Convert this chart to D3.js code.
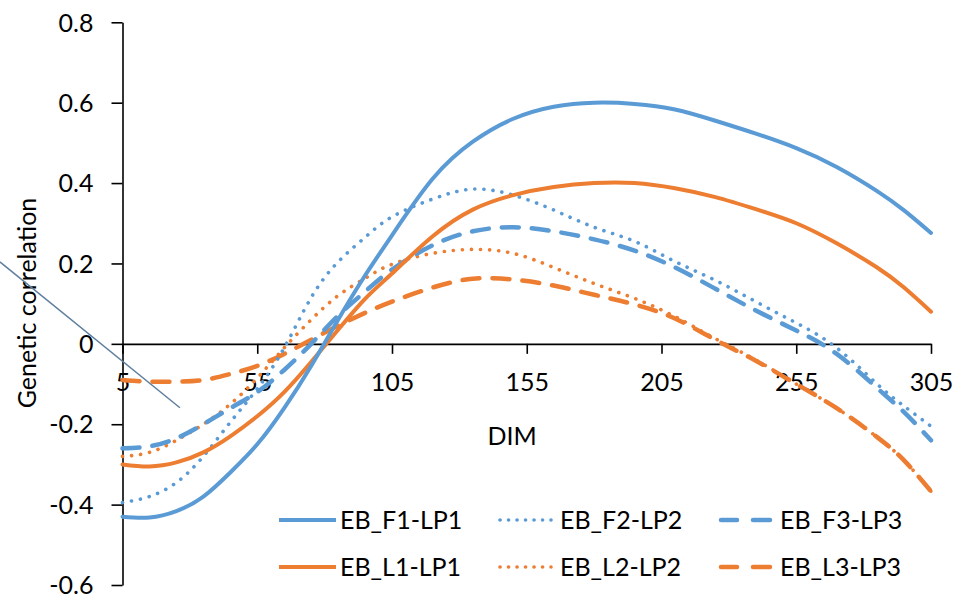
<!DOCTYPE html>
<html>
<head>
<meta charset="utf-8">
<script src="https://cdn.jsdelivr.net/npm/d3@7"></script>
<style>
  html, body { margin: 0; padding: 0; background: #fff; }
  svg { display: block; }
  text { font-family: Lato, "Open Sans", sans-serif; fill: #000; }
</style>
</head>
<body>
<svg id="chart" width="957" height="596"></svg>
<script>
// ---- data ----
const dim = [5, 15, 25, 35, 45, 55, 65, 75, 85, 95, 105, 120, 135, 150, 165, 180, 195, 210, 225, 240, 255, 270, 285, 295, 305];
const ebF1LP1 = [-0.43, -0.432, -0.416, -0.38, -0.32, -0.25, -0.16, -0.055, 0.06, 0.17, 0.27, 0.41, 0.503, 0.56, 0.59, 0.60, 0.597, 0.583, 0.555, 0.523, 0.487, 0.44, 0.38, 0.332, 0.276];
const ebF2LP2 = [-0.395, -0.38, -0.345, -0.28, -0.195, -0.112, -0.01, 0.115, 0.204, 0.265, 0.316, 0.36, 0.385, 0.37, 0.333, 0.29, 0.255, 0.205, 0.158, 0.105, 0.052, -0.01, -0.1, -0.155, -0.205];
const ebF3LP3 = [-0.26, -0.255, -0.235, -0.2, -0.16, -0.12, -0.065, 0.0, 0.07, 0.13, 0.185, 0.245, 0.28, 0.29, 0.28, 0.26, 0.232, 0.19, 0.137, 0.083, 0.033, -0.025, -0.11, -0.17, -0.24];
const ebL1LP1 = [-0.30, -0.305, -0.295, -0.27, -0.23, -0.18, -0.12, -0.045, 0.035, 0.112, 0.175, 0.267, 0.334, 0.37, 0.39, 0.40, 0.40, 0.387, 0.365, 0.335, 0.30, 0.25, 0.19, 0.14, 0.08];
const ebL2LP2 = [-0.28, -0.27, -0.24, -0.2, -0.15, -0.085, -0.01, 0.06, 0.12, 0.163, 0.198, 0.225, 0.235, 0.225, 0.19, 0.15, 0.113, 0.068, 0.013, -0.04, -0.1, -0.16, -0.232, -0.29, -0.367];
const ebL3LP3 = [-0.09, -0.094, -0.094, -0.09, -0.075, -0.055, -0.025, 0.01, 0.045, 0.077, 0.105, 0.14, 0.162, 0.16, 0.145, 0.122, 0.098, 0.063, 0.01, -0.042, -0.1, -0.16, -0.232, -0.29, -0.367];

const seriesNames = ["EB_F1-LP1", "EB_F2-LP2", "EB_F3-LP3", "EB_L1-LP1", "EB_L2-LP2", "EB_L3-LP3"];
const seriesValues = [ebF1LP1, ebF2LP2, ebF3LP3, ebL1LP1, ebL2LP2, ebL3LP3];

const xTicks = [5, 55, 105, 155, 205, 255, 305];
const yTicks = [-0.6, -0.4, -0.2, 0, 0.2, 0.4, 0.6, 0.8];
const yTickLabels = ["-0.6", "-0.4", "-0.2", "0", "0.2", "0.4", "0.6", "0.8"];
const xTitle = "DIM";
const yTitle = "Genetic correlation";
// stray annotation stroke present in the source image (data coordinates)
const annotX = [-40.5, 26.3];
const annotY = [0.204, -0.159];

// ---- styles ----
const BLUE = "#5B9BD5", ORANGE = "#ED7D31";
const styles = [
  { color: BLUE, width: 4, dash: null },
  { color: BLUE, width: 3.6, dash: "0.1,9" },
  { color: BLUE, width: 4.5, dash: "17,13" },
  { color: ORANGE, width: 4, dash: null },
  { color: ORANGE, width: 3.6, dash: "0.1,9" },
  { color: ORANGE, width: 4.5, dash: "17,13" }
];
const FS = "25px";

const svg = d3.select("#chart");
const x = d3.scaleLinear().domain([5, 305]).range([122.5, 931]);
const y = d3.scaleLinear().domain([-0.6, 0.8]).range([585, 22.3]);

// y axis
const yAxis = svg.append("g").attr("transform", `translate(${x(5)},0)`)
  .call(d3.axisLeft(y).tickValues(yTicks).tickSize(11).tickSizeOuter(0)
    .tickFormat((d, i) => yTickLabels[i]));
yAxis.select(".domain").attr("stroke", "#000").attr("stroke-width", 1.6);
yAxis.selectAll(".tick line").attr("stroke", "#000").attr("stroke-width", 1.6);
yAxis.selectAll(".tick text").attr("x", -29).attr("dy", "0.35em")
  .style("font-size", FS).attr("text-anchor", "end");

// x axis at y=0
const xAxis = svg.append("g").attr("transform", `translate(0,${y(0)})`)
  .call(d3.axisBottom(x).tickValues(xTicks).tickSize(10).tickSizeOuter(0)
    .tickFormat(d3.format("d")));
xAxis.select(".domain").attr("stroke", "#000").attr("stroke-width", 1.6);
xAxis.selectAll(".tick line").attr("stroke", "#000").attr("stroke-width", 1.6);
xAxis.selectAll(".tick text").attr("y", 38).attr("dy", "0.35em")
  .style("font-size", FS);

// titles
svg.append("text").attr("x", 512).attr("y", 436).attr("dy", "0.35em")
  .attr("text-anchor", "middle").style("font-size", FS).text(xTitle);
svg.append("text").attr("transform", `translate(27,303) rotate(-90)`)
  .attr("dy", "0.35em").attr("text-anchor", "middle").style("font-size", FS).text(yTitle);

// series lines
const line = d3.line().x((d, i) => x(dim[i])).y(d => y(d)).curve(d3.curveNatural);
const drawOrder = [5, 4, 2, 1, 3, 0];
drawOrder.forEach(k => {
  const s = styles[k];
  svg.append("path").datum(seriesValues[k])
    .attr("d", line).attr("fill", "none")
    .attr("stroke", s.color).attr("stroke-width", s.width)
    .attr("stroke-linecap", "round").attr("stroke-linejoin", "round")
    .attr("stroke-dasharray", s.dash);
});

// annotation stroke
svg.append("line")
  .attr("x1", x(annotX[0])).attr("y1", y(annotY[0]))
  .attr("x2", x(annotX[1])).attr("y2", y(annotY[1]))
  .attr("stroke", "#5f7f9e").attr("stroke-width", 1.5);

// legend
const legCols = [{ lx: 279, tx: 340 }, { lx: 498, tx: 560 }, { lx: 719, tx: 780 }];
const legRows = [520, 567];
seriesNames.forEach((name, k) => {
  const c = legCols[k % 3], r = legRows[Math.floor(k / 3)];
  const s = styles[k];
  const g = svg.append("g");
  if (k % 3 === 2) {
    g.append("line").attr("x1", c.lx + 2).attr("x2", c.lx + 18).attr("y1", r).attr("y2", r)
      .attr("stroke", s.color).attr("stroke-width", s.width).attr("stroke-linecap", "round");
    g.append("line").attr("x1", c.lx + 34).attr("x2", c.lx + 51).attr("y1", r).attr("y2", r)
      .attr("stroke", s.color).attr("stroke-width", s.width).attr("stroke-linecap", "round");
  } else if (k % 3 === 1) {
    g.append("line").attr("x1", c.lx + 2).attr("x2", c.lx + 53).attr("y1", r).attr("y2", r)
      .attr("stroke", s.color).attr("stroke-width", s.width)
      .attr("stroke-linecap", "round").attr("stroke-dasharray", "0.1,8.4");
  } else {
    g.append("line").attr("x1", c.lx).attr("x2", c.lx + 57).attr("y1", r).attr("y2", r)
      .attr("stroke", s.color).attr("stroke-width", s.width);
  }
  g.append("text").attr("x", c.tx).attr("y", r).attr("dy", "0.35em")
    .style("font-size", FS).text(name);
});
</script>
</body>
</html>
